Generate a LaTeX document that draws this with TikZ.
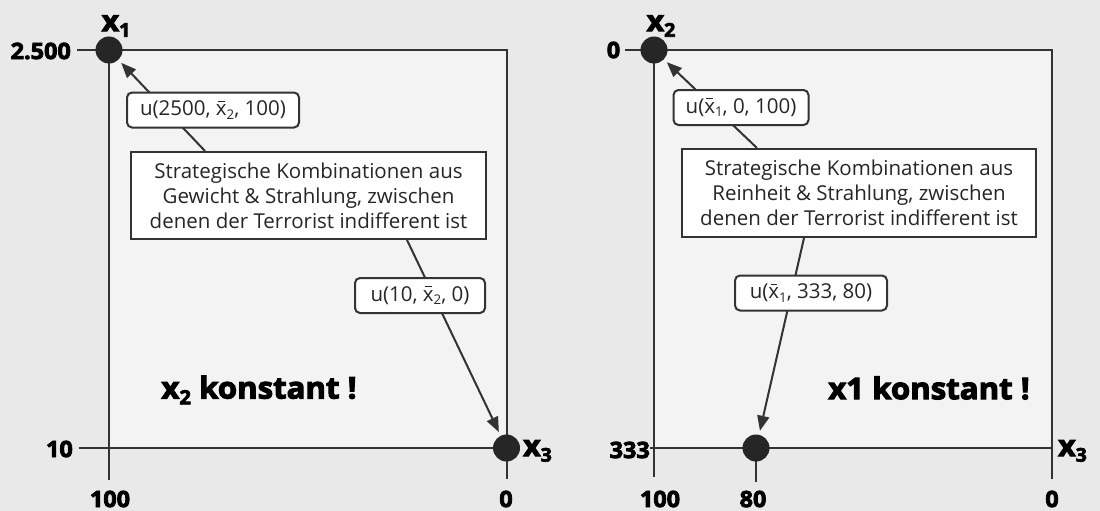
\documentclass[tikz,border=0pt]{standalone}
\usepackage{fontspec}
\setmainfont{Open Sans}
\newfontfamily\heavy[BoldFeatures={FakeBold=3.5,FakeStretch=1.04}]{Open Sans}
\usetikzlibrary{arrows.meta}
\definecolor{bg}{HTML}{E9E9E9}
\definecolor{panel}{HTML}{F3F3F3}
\definecolor{ink}{HTML}{333333}
\definecolor{dot}{HTML}{262626}
\newcommand\subs[1]{\raisebox{-0.35ex}{\scalebox{0.65}{#1}}}
\newcommand\xbar{\ooalign{x\cr\hidewidth\raisebox{0.66em}{\rule{0.32em}{0.06em}}\hidewidth\cr}}
\tikzset{
  axis/.style={draw=ink, line width=2pt},
  dotnode/.style={circle, fill=dot, minimum size=27pt, inner sep=0pt},
  bigbox/.style={draw=ink, line width=2pt, fill=white, align=center, inner sep=0pt,
    font=\fontsize{20.5}{25}\selectfont, text=black!85},
  lbl/.style={draw=ink, line width=2pt, fill=white, rounded corners=5pt, inner sep=0pt,
    minimum height=35pt, font=\fontsize{20.5}{24}\selectfont, text=black!85},
  arr/.style={draw=ink, line width=2pt, -{Triangle[length=15pt,width=12pt]}, shorten >=4pt},
  num/.style={font=\heavy\bfseries\fontsize{22.5}{24}\selectfont, inner sep=0pt},
  var/.style={font=\heavy\bfseries\fontsize{29}{30}\selectfont, inner sep=0pt},
  note/.style={font=\heavy\bfseries\fontsize{30}{32}\selectfont, inner sep=0pt}
}
\begin{document}
\begin{tikzpicture}[x=1pt,y=-1pt]
\fill[bg] (0,0) rectangle (1100,511);
\useasboundingbox (0,0) rectangle (1100,511);
% ---------- left panel ----------
\coordinate (Ltl) at (109,50);
\coordinate (Ltr) at (506.5,50);
\coordinate (Lbr) at (506.5,448);
\coordinate (Lbl) at (109,448);
\fill[panel] (Ltl) rectangle (Lbr);
\draw[axis] (77,50) -- (Ltr) -- (506.5,479);
\draw[axis] (Ltl) -- (109,480);
\draw[axis] (79,448) -- (Lbr);
\node[bigbox, minimum width=355pt, minimum height=87pt] (bigL) at (308.5,195.5)
  {Strategische Kombinationen aus\\Gewicht \& Strahlung, zwischen\\denen der Terrorist indifferent ist};
\node[dotnode] (c1) at (Ltl) {};
\node[dotnode] (c3) at (Lbr) {};
\draw[arr] ([xshift=-103.5pt]bigL.north) -- (c1);
\draw[arr] ([xshift=98.5pt]bigL.south) -- (c3);
\node[lbl, minimum width=172pt] (uL1) at (213,110) {u(2500, \xbar\subs{2}, 100)};
\node[lbl, minimum width=130pt] (uL2) at (420,295.5) {u(10, \xbar\subs{2}, 0)};
\node[note] (kL) at (259,390) {x\subs{2} konstant !};
\node[num, anchor=east] (n2500) at (71,51) {2.500};
\node[num, anchor=east] (n10) at (73,449) {10};
\node[num] (n100L) at (110,499) {100};
\node[num] (n0L) at (506,499) {0};
\node[var] (vx1) at (116,26) {x\subs{1}};
\node[var, anchor=west] (vx3L) at (523,451) {x\subs{3}};
% ---------- right panel ----------
\coordinate (Rtl) at (654,50);
\coordinate (Rtr) at (1052,50);
\coordinate (Rbr) at (1052,448);
\coordinate (Rbl) at (654,448);
\fill[panel] (Rtl) rectangle (Rbr);
\draw[axis] (625,50) -- (Rtr) -- (1052,479);
\draw[axis] (Rtl) -- (654,477);
\draw[axis] (650,448) -- (Rbr);
\coordinate (R80) at (756,448);
\draw[axis] (R80) -- (756,482);
\node[bigbox, minimum width=354pt, minimum height=88pt] (bigR) at (859,193)
  {Strategische Kombinationen aus\\Reinheit \& Strahlung, zwischen\\denen der Terrorist indifferent ist};
\node[dotnode] (c2) at (Rtl) {};
\node[dotnode] (c4) at (R80) {};
\draw[arr] ([xshift=-102pt]bigR.north) -- (c2);
\draw[arr] ([xshift=-55pt]bigR.south) -- (c4);
\node[lbl, minimum width=135pt] (uR1) at (741,107.5) {u(\xbar\subs{1}, 0, 100)};
\node[lbl, minimum width=152pt] (uR2) at (811,293) {u(\xbar\subs{1}, 333, 80)};
\node[note] (kR) at (929,388) {x1 konstant !};
\node[num] (n0T) at (613.5,50) {0};
\node[num, anchor=east] (n333) at (650,450) {333};
\node[num] (n100R) at (660,499) {100};
\node[num] (n80) at (753,499) {80};
\node[num] (n0R) at (1052,499) {0};
\node[var] (vx2) at (661,26) {x\subs{2}};
\node[var, anchor=west] (vx3R) at (1058,451) {x\subs{3}};
\end{tikzpicture}
\end{document}
